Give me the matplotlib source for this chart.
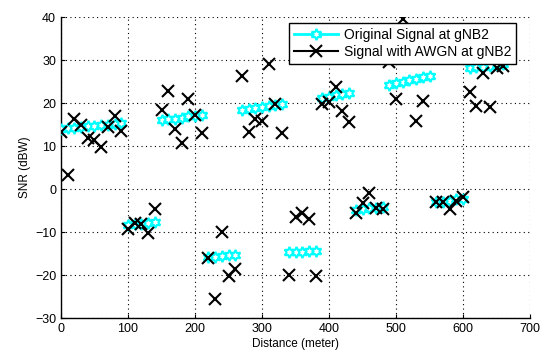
import numpy as np
import matplotlib
matplotlib.use("Agg")
import matplotlib.pyplot as plt
from matplotlib.lines import Line2D

plt.rcParams['font.family'] = ['Liberation Sans', 'DejaVu Sans']

# Distance groups (meters) and SNR values (dBW)
groups_x = [
    [0, 10, 20, 30, 40, 50, 60, 70, 80, 90],
    [100, 110, 120, 130, 140],
    [150, 160, 170, 180, 190, 200, 210],
    [220, 230, 240, 250, 260],
    [270, 280, 290, 300, 310, 320, 330],
    [340, 350, 360, 370, 380],
    [390, 400, 410, 420, 430],
    [440, 450, 460, 470, 480],
    [490, 500, 510, 520, 530, 540, 550],
    [560, 570, 580, 590, 600],
    [610, 620, 630, 640, 650, 660],
]
original_snr = [
    [14.0, 14.1, 14.3, 14.4, 14.6, 14.7, 14.9, 15.0, 15.2, 15.3],
    [-8.4, -8.2, -8.1, -7.9, -7.7],
    [16.0, 16.2, 16.4, 16.6, 16.9, 17.1, 17.3],
    [-15.8, -15.7, -15.6, -15.4, -15.3],
    [18.3, 18.6, 18.8, 19.1, 19.4, 19.6, 19.9],
    [-14.7, -14.6, -14.6, -14.5, -14.4],
    [21.2, 21.5, 21.8, 22.1, 22.4],
    [-4.9, -4.7, -4.5, -4.3, -4.1],
    [24.3, 24.6, 25.0, 25.3, 25.6, 26.0, 26.3],
    [-3.1, -2.9, -2.7, -2.4, -2.2],
    [28.2, 28.4, 28.5, 28.7, 28.8, 29.0],
]
awgn_snr = [
    [13.3, 3.2, 16.3, 14.8, 11.8, 11.5, 9.8, 14.5, 17.0, 13.6],
    [-9.2, -8.0, -8.2, -10.2, -4.6],
    [18.4, 22.8, 13.9, 10.8, 21.0, 17.2, 13.1],
    [-16.0, -25.5, -10.1, -20.3, -18.7],
    [26.2, 13.2, 16.2, 15.8, 29.0, 19.9, 13.0],
    [-20.0, -6.5, -5.5, -7.0, -20.2],
    [19.9, 20.3, 23.8, 18.1, 15.5],
    [-5.6, -3.2, -1.0, -4.3, -4.7],
    [29.6, 20.9, 39.5, 33.0, 15.8, 20.5, 34.0],
    [-3.1, -3.0, -4.7, -2.7, -1.9],
    [22.6, 19.4, 26.9, 19.0, 28.1, 28.6],
]
x_ticks = [0, 100, 200, 300, 400, 500, 600, 700]
y_ticks = [-30, -20, -10, 0, 10, 20, 30, 40]

fig = plt.figure(figsize=(5.47, 3.5), dpi=100)
ax = fig.add_axes([0.1115, 0.0914, 0.8575, 0.8596])

hexagram = (6, 1, 0)
cyan_style = dict(color='cyan', linewidth=2.0, marker=hexagram, markersize=8,
                  markerfacecolor='white', markeredgecolor='cyan', markeredgewidth=1.5)
black_style = dict(color='black', linestyle='none', marker='x', markersize=8,
                   markeredgewidth=1.5)

for gx, gy in zip(groups_x, original_snr):
    ax.plot(gx, gy, zorder=3, **cyan_style)
for gx, gy in zip(groups_x, awgn_snr):
    ax.plot(gx, gy, zorder=4, **black_style)

ax.set_xlim(0, 700)
ax.set_ylim(-30, 40)
ax.set_xticks(x_ticks)
ax.set_yticks(y_ticks)
ax.tick_params(direction='in', labelsize=9, length=3, width=0.8, colors='black')
for s in ['top', 'right']:
    ax.spines[s].set_visible(False)
for s in ['left', 'bottom']:
    ax.spines[s].set_linewidth(1.0)
ax.grid(True, linestyle=(0, (1, 3)), color='black', linewidth=0.8)
ax.set_axisbelow(True)

ax.set_xlabel('Distance (meter)', fontsize=8.5, labelpad=2)
ax.set_ylabel('SNR (dBW)', fontsize=8.5, labelpad=3)

handles = [
    Line2D([], [], **cyan_style),
    Line2D([], [], color='black', linewidth=1.5, marker='x', markersize=8, markeredgewidth=1.5),
]
leg = ax.legend(handles, ['Original Signal at gNB2', 'Signal with AWGN at gNB2'],
                loc='upper right', bbox_to_anchor=(0.97, 0.98), fontsize=10,
                fancybox=False, framealpha=1, edgecolor='black',
                borderpad=0.35, labelspacing=0.2, handlelength=3.2, handletextpad=0.4,
                borderaxespad=0)
leg.get_frame().set_linewidth(1.0)
leg.set_zorder(10)

fig.savefig('out.png', dpi=100)
